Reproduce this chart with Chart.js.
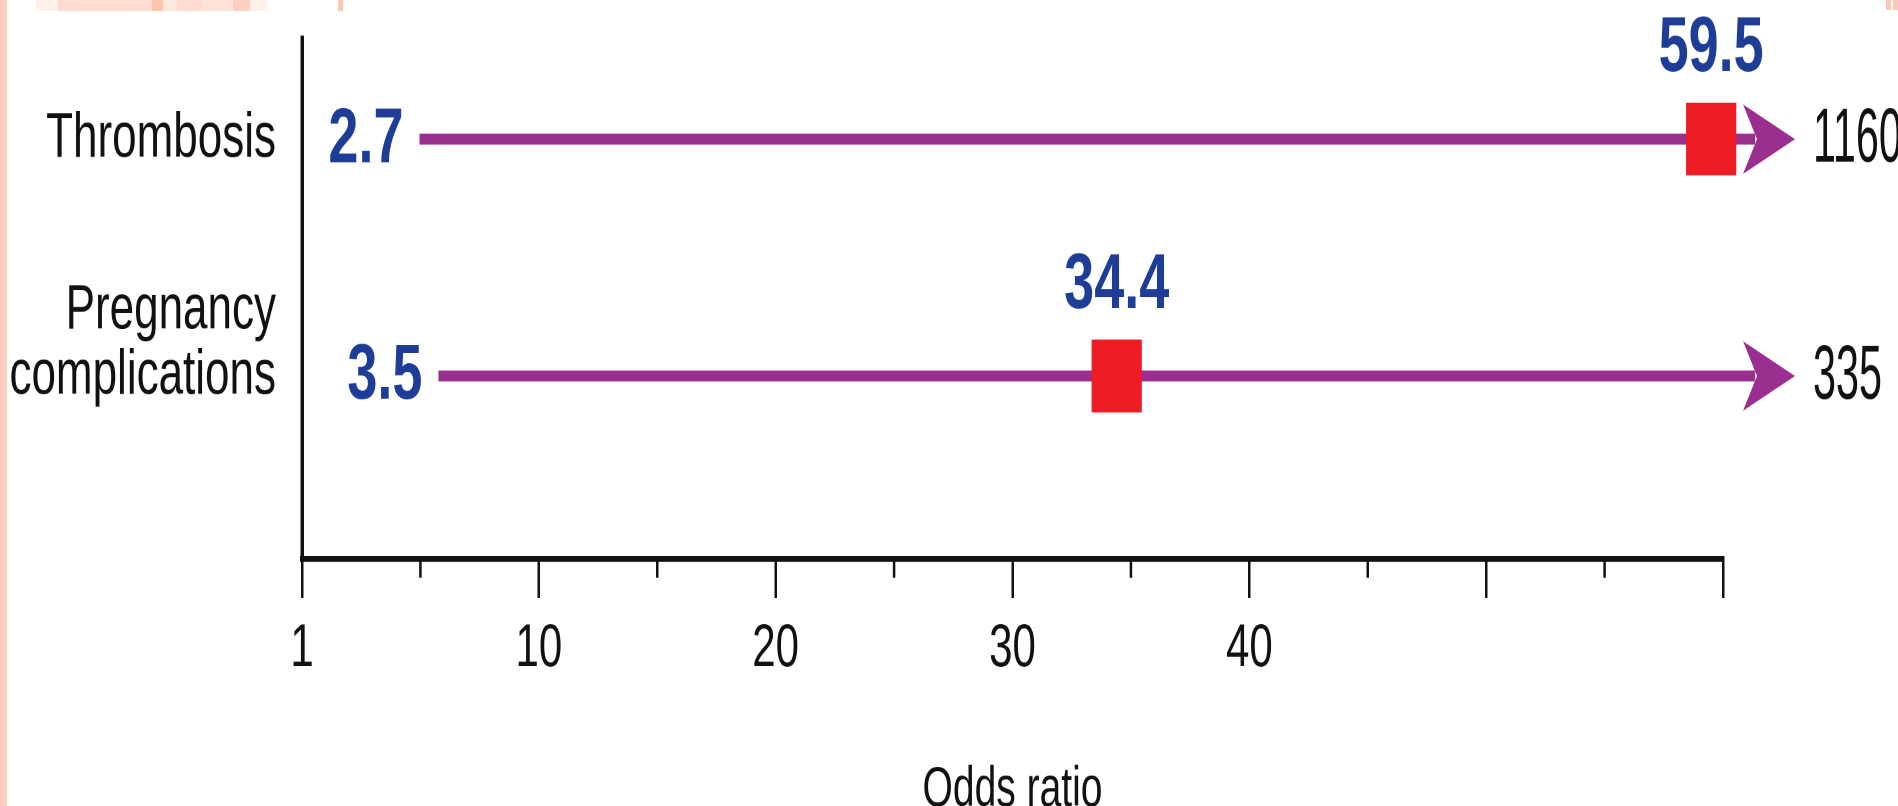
<!DOCTYPE html>
<html>
<head>
<meta charset="utf-8">
<title>Odds ratio</title>
<script src="https://cdn.jsdelivr.net/npm/chart.js"></script>
<style>
  html, body { margin: 0; padding: 0; background: #fff; overflow: hidden; }
  body { width: 1898px; height: 806px; position: relative; }
  /* the source picture is stretched vertically, so the chart is drawn flat and scaled */
  #wrap { position: absolute; left: 0; top: 0; width: 1898px; height: 556px;
          transform: scaleY(1.4496); transform-origin: 0 0; }
  .deco { position: absolute; }
</style>
</head>
<body>
<div id="wrap"><canvas id="mycanvas" width="1898" height="556"></canvas></div>

<div class="deco" style="left:0;top:0;width:7px;height:806px;background:#ffcdbd"></div>
<div class="deco" style="left:36px;top:0;width:22px;height:11px;background:#fff0ea"></div>
<div class="deco" style="left:58px;top:0;width:94px;height:11px;background:#ffdcd2"></div>
<div class="deco" style="left:152px;top:0;width:11px;height:11px;background:#ffc4b0"></div>
<div class="deco" style="left:163px;top:0;width:14px;height:11px;background:#ffe8e0"></div>
<div class="deco" style="left:177px;top:0;width:25px;height:11px;background:#ffdcd2"></div>
<div class="deco" style="left:202px;top:0;width:31px;height:11px;background:#ffe3da"></div>
<div class="deco" style="left:233px;top:0;width:17px;height:11px;background:#ffd0c0"></div>
<div class="deco" style="left:250px;top:0;width:17px;height:11px;background:#fff0ea"></div>
<div class="deco" style="left:338px;top:0;width:5px;height:11px;background:#ffc8b4"></div>
<div class="deco" style="left:1886px;top:0;width:5px;height:10px;background:#ffc8b4"></div>
<div class="deco" style="left:1893px;top:0;width:5px;height:10px;background:#ffc8b4"></div>

<script>
// data
var outcomes = ['Thrombosis', 'Pregnancy complications'];
var oddsRatio = [59.5, 34.4];
var ciLow = [2.7, 3.5];
var ciHigh = [1160, 335];

// x axis: ticks every 5, only some carry text
var tickValues = [0, 10, 20, 30, 40];
var tickLabels = ['1', '10', '20', '30', '40'];

var purple = '#9a2f8f';
var blue = '#1e3d96';
var blueFont = 'bold 54px "Liberation Sans", Arial, sans-serif';
var upperFont = '53px "Liberation Sans", Arial, sans-serif';

Chart.defaults.font.family = '"Liberation Sans", Arial, sans-serif';
Chart.defaults.color = '#111';

var forestPlugin = {
	id: 'forest',
	beforeDatasetsDraw: function(chart) {
		var ctx = chart.ctx;
		var area = chart.chartArea;
		var x = chart.scales.x;
		var y = chart.scales.y;
		ctx.save();

		// short ticks between the labelled ones
		ctx.strokeStyle = '#111';
		ctx.lineWidth = 2.5;
		x.ticks.forEach(function(t) {
			if (t.value % 10 !== 0) {
				var px = x.getPixelForValue(t.value);
				ctx.beginPath();
				ctx.moveTo(px, area.bottom);
				ctx.lineTo(px, area.bottom + 13);
				ctx.stroke();
			}
		});

		// confidence interval lines with arrow
		for (var i in outcomes) {
			var py = y.getPixelForValue(+i + 1);
			ctx.font = blueFont;
			var half = ctx.measureText(String(ciLow[i])).width / 2;
			var start = x.getPixelForValue(ciLow[i]) + half + 16;
			var tip = ciHigh[i] > x.max ? area.right + 72 : x.getPixelForValue(ciHigh[i]);

			ctx.strokeStyle = purple;
			ctx.lineWidth = 7.5;
			ctx.beginPath();
			ctx.moveTo(start, py);
			ctx.lineTo(tip - 40, py);
			ctx.stroke();

			ctx.fillStyle = purple;
			ctx.beginPath();
			ctx.moveTo(tip, py);
			ctx.lineTo(tip - 52, py - 24);
			ctx.lineTo(tip - 38, py);
			ctx.lineTo(tip - 52, py + 24);
			ctx.closePath();
			ctx.fill();
		}
		ctx.restore();
	},
	afterDatasetsDraw: function(chart) {
		var ctx = chart.ctx;
		var area = chart.chartArea;
		var x = chart.scales.x;
		var y = chart.scales.y;
		for (var i in outcomes) {
			var py = y.getPixelForValue(+i + 1);
			var tip = ciHigh[i] > x.max ? area.right + 72 : x.getPixelForValue(ciHigh[i]);

			ctx.save();
			ctx.font = blueFont;
			ctx.fillStyle = blue;
			ctx.textAlign = 'center';
			ctx.textBaseline = 'alphabetic';
			ctx.fillText(String(oddsRatio[i]), x.getPixelForValue(oddsRatio[i]), py - 47);

			ctx.textBaseline = 'middle';
			ctx.fillText(String(ciLow[i]), x.getPixelForValue(ciLow[i]), py + 1);

			// upper limits are set in a narrow face in the figure
			ctx.font = upperFont;
			ctx.fillStyle = '#111';
			ctx.textAlign = 'left';
			ctx.translate(tip + 18, py + 1);
			ctx.scale(0.78, 1);
			ctx.fillText(String(ciHigh[i]), 0, 0);
			ctx.restore();
		}
	}
};

var ctx = document.getElementById('mycanvas');

var forest = new Chart(ctx, {
	type: 'scatter',
	data: {
		datasets: [
			{
				label: 'Odds ratio',
				data: oddsRatio.map(function(v, i) { return {x: v, y: i + 1}; }),
				pointStyle: 'rect',
				pointRadius: 35.5,
				pointHoverRadius: 35.5,
				backgroundColor: '#ee1c24',
				borderWidth: 0,
				clip: false
			}
		]
	},
	options: {
		responsive: false,
		animation: false,
		devicePixelRatio: 2,
		layout: { autoPadding: false, padding: { top: 26, right: 175, bottom: 0, left: 0 } },
		plugins: {
			legend: { display: false },
			tooltip: { enabled: false }
		},
		scales: {
			x: {
				type: 'linear',
				min: 0,
				max: 60,
				afterFit: function(scale) {
					scale.height = 170.5;
					scale.paddingLeft = 0;
					scale.paddingRight = 0;
				},
				ticks: {
					stepSize: 5,
					autoSkip: false,
					maxRotation: 0,
					padding: 10,
					font: { size: 42 },
					callback: function(value) {
						var k = tickValues.indexOf(value);
						return k >= 0 ? tickLabels[k] : '';
					}
				},
				grid: {
					drawOnChartArea: false,
					tickLength: 27,
					lineWidth: 2.5,
					color: function(c) {
						return c.tick && c.tick.value % 10 === 0 ? '#111' : 'rgba(0,0,0,0)';
					}
				},
				border: { display: true, color: '#111', width: 4 },
				title: {
					display: true,
					text: 'Odds ratio',
					color: '#111',
					font: { size: 39, lineHeight: 0.55 },
					padding: 0
				}
			},
			y: {
				type: 'linear',
				reverse: true,
				min: 0.572,
				max: 2.772,
				afterBuildTicks: function(scale) {
					scale.ticks = outcomes.map(function(_, i) { return {value: i + 1}; });
				},
				afterFit: function(scale) {
					scale.width = 302;
					scale.paddingTop = 0;
					scale.paddingBottom = 0;
				},
				ticks: {
					padding: 26,
					font: { size: 44, lineHeight: 1.02 },
					callback: function(value) {
						var words = outcomes[value - 1].split(' ');
						// two-line label sits above its line in the figure
						return words.length > 1 ? words.concat(['']) : words[0];
					}
				},
				grid: { display: false, drawTicks: false },
				border: { display: true, color: '#111', width: 3.5 }
			}
		}
	},
	plugins: [forestPlugin]
});
</script>
</body>
</html>
